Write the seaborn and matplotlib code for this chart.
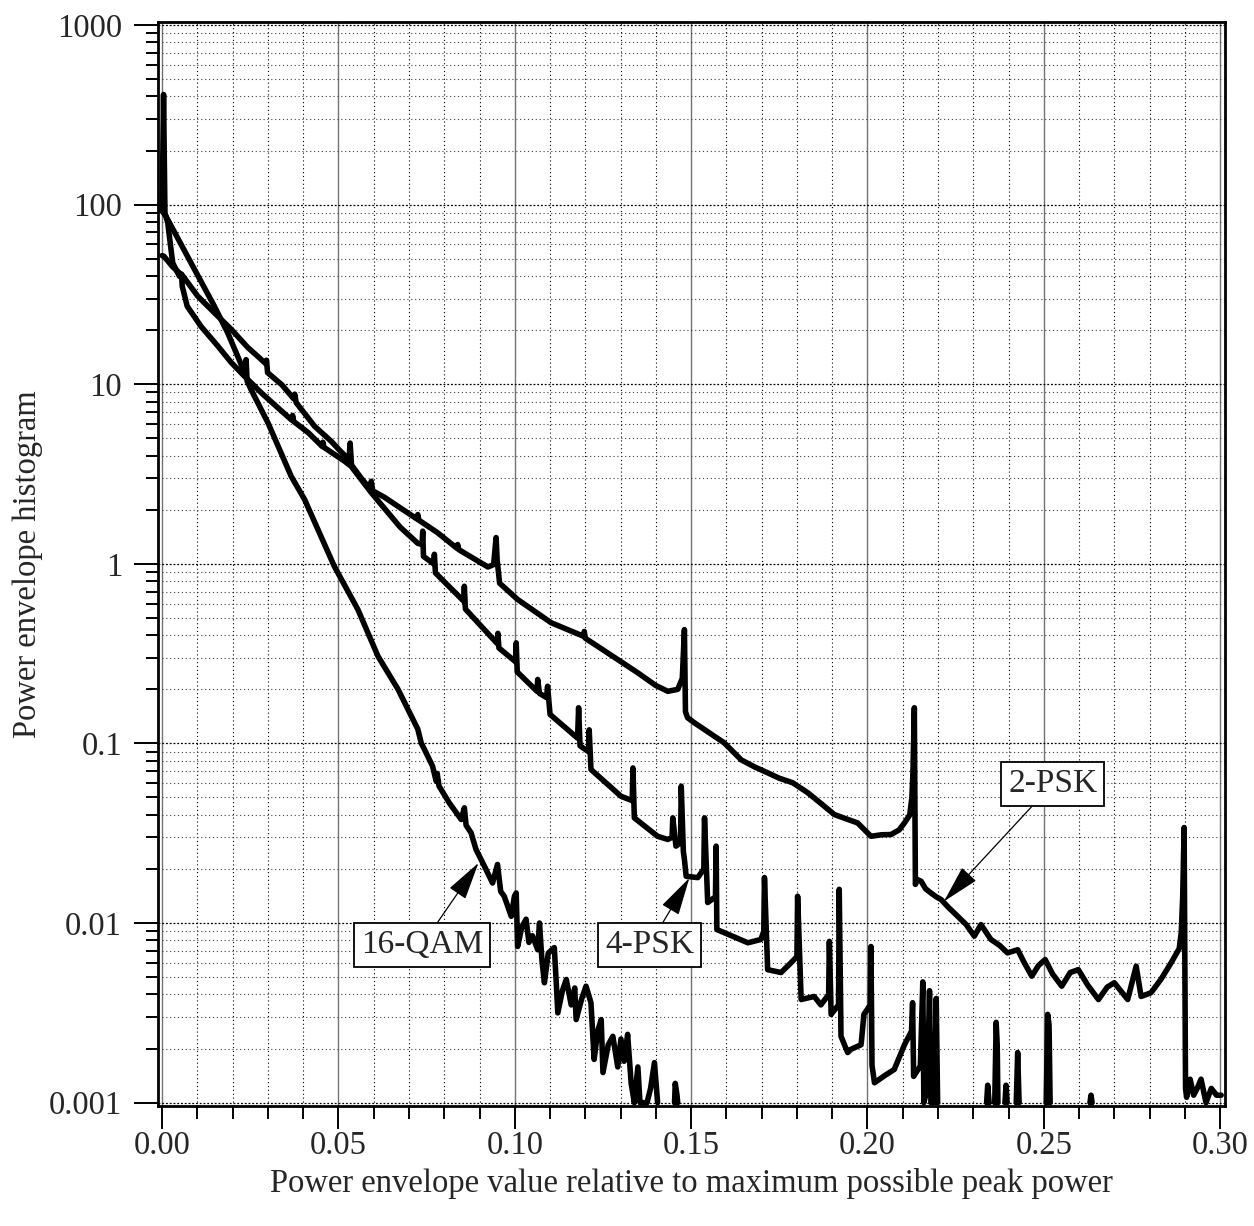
import pandas as pd
import numpy as np
import matplotlib
matplotlib.use('Agg')
import matplotlib.pyplot as plt
import matplotlib.ticker as mticker
import seaborn as sns

# (x, y) pairs; None marks a gap in the trace
PSK2 = [(0.0, 52), (0.0005, 51.6), (0.003, 45), (0.0059, 40), (0.0101, 30.9), (0.0148, 25),
        (0.0196, 20.2), (0.0243, 16), (0.0271, 14.3), (0.0294, 13.0), (0.0296, 13.6), (0.0299, 11.6),
        (0.0340, 9.9), (0.0373, 8.3), (0.0376, 8.8), (0.0380, 7.9), (0.0432, 5.84), (0.0479, 4.82),
        (0.0505, 4.25), (0.0530, 3.8), (0.0533, 4.7), (0.0537, 3.55), (0.0564, 3.01), (0.0590, 2.6),
        (0.0593, 2.88), (0.0597, 2.55), (0.0630, 2.35), (0.0675, 2.05), (0.0722, 1.78), (0.0725, 1.88),
        (0.0728, 1.75), (0.0781, 1.49), (0.0836, 1.22), (0.0838, 1.28), (0.0841, 1.2), (0.0880, 1.08),
        (0.0905, 1.01), (0.0924, 0.96), (0.0940, 0.99), (0.0947, 1.40), (0.0950, 1.05), (0.0957, 0.78),
        (0.1008, 0.633), (0.1103, 0.47), (0.1195, 0.395), (0.1197, 0.42), (0.1200, 0.385), (0.1292, 0.293),
        (0.1349, 0.247), (0.1400, 0.21), (0.1434, 0.195), (0.1462, 0.2), (0.1475, 0.23), (0.1481, 0.43),
        (0.1484, 0.15), (0.1490, 0.139), (0.1510, 0.13), (0.1594, 0.1007), (0.1642, 0.081), (0.1680, 0.074),
        (0.1717, 0.0686), (0.1750, 0.064), (0.1788, 0.0604), (0.1831, 0.0531), (0.1870, 0.046),
        (0.1906, 0.0402), (0.1940, 0.038), (0.1972, 0.0361), (0.2010, 0.0304), (0.2040, 0.031),
        (0.2067, 0.0311), (0.2090, 0.033), (0.2105, 0.0361), (0.2120, 0.040), (0.2126, 0.05),
        (0.2129, 0.069), (0.2133, 0.158), (0.2136, 0.0164), (0.2140, 0.0175), (0.2152, 0.0171),
        (0.2165, 0.0155), (0.2180, 0.0147), (0.2195, 0.014), (0.2209, 0.0135), (0.2230, 0.0122),
        (0.2256, 0.0109), (0.2280, 0.0098), (0.2303, 0.00845), (0.2322, 0.0098), (0.2350, 0.0081),
        (0.2375, 0.0075), (0.2397, 0.00682), (0.2426, 0.0071), (0.2445, 0.0060), (0.2466, 0.00506),
        (0.2485, 0.0058), (0.2504, 0.00626), (0.2525, 0.0052), (0.2551, 0.00445), (0.2575, 0.0053),
        (0.2598, 0.0055), (0.2625, 0.0045), (0.2655, 0.00375), (0.2680, 0.0044), (0.2700, 0.00465),
        (0.2738, 0.00375), (0.2762, 0.00575), (0.2776, 0.0039), (0.2804, 0.00409), (0.2832, 0.00485),
        (0.2861, 0.006), (0.2884, 0.0072), (0.2890, 0.0089), (0.2894, 0.0141), (0.2898, 0.034),
        (0.2902, 0.0012), (0.2905, 0.00107), (0.2915, 0.00135), (0.2925, 0.0011), (0.2935, 0.0012),
        (0.2946, 0.00135), (0.2960, 0.001), (0.2975, 0.0012), (0.2990, 0.0011), (0.3003, 0.0011)]

PSK4 = [(0.0, 92), (0.0004, 410), (0.0008, 90), (0.0016, 79), (0.0024, 58.7), (0.003, 47.4),
        (0.0049, 39.9), (0.0055, 41), (0.0057, 35.1), (0.0071, 27.2), (0.011, 21), (0.0158, 16.3),
        (0.0196, 13.2), (0.0233, 11.1), (0.0281, 8.96), (0.0328, 7.4), (0.0368, 6.3), (0.0370, 6.7),
        (0.0373, 6.2), (0.0415, 5.36), (0.0454, 4.5), (0.0456, 4.75), (0.0459, 4.45), (0.0517, 3.73),
        (0.0536, 3.49), (0.0593, 2.49), (0.0675, 1.6), (0.0725, 1.30), (0.0737, 1.28), (0.0739, 1.52),
        (0.0741, 1.1), (0.0770, 1.0), (0.0772, 1.13), (0.0775, 0.89), (0.0855, 0.62), (0.0857, 0.75),
        (0.0860, 0.56), (0.0950, 0.36), (0.0952, 0.41), (0.0955, 0.34), (0.1002, 0.285), (0.1004, 0.363),
        (0.1007, 0.25), (0.1063, 0.195), (0.1065, 0.227), (0.1070, 0.19), (0.1090, 0.18), (0.1093, 0.208),
        (0.1100, 0.145), (0.1178, 0.107), (0.1181, 0.158), (0.1185, 0.097), (0.1209, 0.09), (0.1211, 0.119),
        (0.1216, 0.0716), (0.1301, 0.0508), (0.1333, 0.048), (0.1335, 0.073), (0.1339, 0.0385),
        (0.1405, 0.0304), (0.1434, 0.0292), (0.1446, 0.03), (0.1448, 0.0385), (0.1457, 0.0268),
        (0.1470, 0.028), (0.1472, 0.0578), (0.1478, 0.025), (0.1481, 0.0226), (0.1486, 0.0182),
        (0.1519, 0.0179), (0.1536, 0.02), (0.1538, 0.0385), (0.1547, 0.013), (0.1569, 0.014),
        (0.1571, 0.0268), (0.1573, 0.0092), (0.1661, 0.00776), (0.1698, 0.0081), (0.1706, 0.009),
        (0.1708, 0.0179), (0.1717, 0.0055), (0.1755, 0.0053), (0.1783, 0.006), (0.1800, 0.0065),
        (0.1802, 0.0141), (0.1812, 0.00375), (0.1849, 0.0039), (0.1868, 0.0035), (0.1890, 0.004),
        (0.1892, 0.0079), (0.1897, 0.0031), (0.1918, 0.0035), (0.1920, 0.0154), (0.1925, 0.00234),
        (0.1944, 0.0019), (0.1953, 0.00198), (0.1982, 0.0021), (0.1990, 0.0031), (0.2008, 0.0035),
        (0.2010, 0.0074), (0.2013, 0.00161), (0.2020, 0.00129), (0.2048, 0.00141), (0.2076, 0.00153),
        (0.2105, 0.0021), (0.2125, 0.0025), (0.2128, 0.0036), (0.2131, 0.0014), (0.2150, 0.0016),
        (0.2157, 0.0047), (0.2160, 0.001), (0.2170, 0.0012), (0.2176, 0.0042), (0.2180, 0.001),
        (0.2190, 0.001), (0.2195, 0.0038), (0.2199, 0.001), None,
        (0.2338, 0.001), (0.2341, 0.00125), (0.2345, 0.001), None,
        (0.2361, 0.001), (0.2365, 0.0028), (0.2368, 0.0021), (0.2370, 0.001), None,
        (0.2390, 0.001), (0.2393, 0.00125), (0.2396, 0.001), None,
        (0.2422, 0.001), (0.2426, 0.0019), (0.2430, 0.001), None,
        (0.2507, 0.001), (0.2511, 0.0031), (0.2515, 0.0027), (0.2518, 0.001), None,
        (0.2631, 0.001), (0.2634, 0.0011), (0.2637, 0.001)]

QAM16 = [(0.0, 92), (0.0011, 86), (0.0092, 43.5), (0.0148, 27.2), (0.0186, 19.3), (0.0224, 12.9),
         (0.0236, 11.3), (0.0238, 13.7), (0.0241, 10.4), (0.0252, 9.35), (0.0300, 6.1), (0.0333, 4.33),
         (0.0366, 3.07), (0.0404, 2.28), (0.0488, 0.97), (0.0555, 0.557), (0.0612, 0.306), (0.0669, 0.2),
         (0.0725, 0.12), (0.0735, 0.1), (0.0744, 0.0925), (0.0767, 0.0746), (0.0777, 0.0616),
         (0.0780, 0.068), (0.0785, 0.058), (0.0814, 0.0467), (0.0848, 0.0377), (0.0857, 0.0438),
         (0.0862, 0.035), (0.0876, 0.0318), (0.0890, 0.0257), (0.0914, 0.0207), (0.0937, 0.0167),
         (0.0951, 0.0212), (0.0960, 0.015), (0.0970, 0.0141), (0.0990, 0.0109), (0.0999, 0.0141),
         (0.1004, 0.0147), (0.1008, 0.0074), (0.1020, 0.0095), (0.1032, 0.0105), (0.1040, 0.0078),
         (0.1050, 0.0085), (0.1065, 0.0071), (0.1070, 0.01), (0.1077, 0.0062), (0.1084, 0.00465),
         (0.1095, 0.0068), (0.1112, 0.0073), (0.1118, 0.0045), (0.1122, 0.00316), (0.1135, 0.0042),
         (0.1146, 0.00485), (0.1160, 0.0035), (0.1170, 0.00435), (0.1174, 0.0029), (0.1190, 0.0038),
         (0.1202, 0.00445), (0.1216, 0.0036), (0.1225, 0.00174), (0.1235, 0.0025), (0.1245, 0.0029),
         (0.1250, 0.00147), (0.1265, 0.0021), (0.1278, 0.00234), (0.1292, 0.00158), (0.1301, 0.00226),
         (0.1310, 0.0017), (0.1320, 0.0024), (0.1330, 0.00128), (0.1339, 0.001), (0.1349, 0.00158),
         (0.1355, 0.001), (0.1375, 0.001), (0.1385, 0.0012), (0.1396, 0.00167), (0.1405, 0.001), None,
         (0.1453, 0.001), (0.1455, 0.00128), (0.1460, 0.0011), (0.1462, 0.001)]

CURVES = {'2-PSK': PSK2, '4-PSK': PSK4, '16-QAM': QAM16}

X_TICKS = [0.00, 0.05, 0.10, 0.15, 0.20, 0.25, 0.30]
Y_TICKS = [0.001, 0.01, 0.1, 1, 10, 100, 1000]
Y_TICK_LABELS = ['0.001', '0.01', '0.1', '1', '10', '100', '1000']

LABELS = ['2-PSK', '4-PSK', '16-QAM']
TIP_X = [0.2217, 0.1495, 0.0897]
TIP_Y = [0.0132, 0.0178, 0.0216]
BOX_X = [0.2525, 0.1382, 0.0737]
BOX_Y = [0.0594, 0.00755, 0.00755]


def to_rows(name, pts):
    rows = []
    seg = 0
    for p in pts:
        if p is None:
            seg += 1
            continue
        rows.append({'curve': name, 'seg': f'{name}_{seg}', 'x': p[0], 'y': p[1]})
    return rows


rows = []
for name, pts in CURVES.items():
    rows += to_rows(name, pts)
df = pd.DataFrame(rows)

sns.set_style('white')
plt.rcParams['font.family'] = ['Liberation Serif', 'DejaVu Serif']

fig = plt.figure(figsize=(12.54, 12.26), dpi=100)
ax = fig.add_axes([0.1262, 0.0975, 0.8507, 0.8848])

sns.lineplot(data=df, x='x', y='y', units='seg', estimator=None, sort=False,
             color='black', lw=4.0, solid_joinstyle='round', solid_capstyle='round',
             ax=ax, zorder=3)

ax.set_yscale('log')
ax.set_xlim(-0.0011, 0.3014)
ax.set_ylim(0.000952, 1043)

ax.set_xticks(X_TICKS)
ax.set_xticklabels([f'{t:.2f}' for t in X_TICKS])
ax.xaxis.set_minor_locator(mticker.MultipleLocator(0.01))
ax.set_yticks(Y_TICKS)
ax.set_yticklabels(Y_TICK_LABELS)
ax.yaxis.set_minor_locator(mticker.LogLocator(base=10, subs=np.arange(2, 10)))
ax.yaxis.set_minor_formatter(mticker.NullFormatter())

ax.tick_params(axis='both', which='both', direction='out', color='black', labelsize=23.5,
               bottom=True, left=True)
ax.tick_params(axis='x', which='major', length=16.5, width=1.4, pad=0.5)
ax.tick_params(axis='x', which='minor', length=9.5, width=1.4)
ax.tick_params(axis='y', which='major', length=17, width=1.4, pad=9)
ax.tick_params(axis='y', which='minor', length=8.5, width=1.4)

# grid: solid grey at 0.05 steps, dotted elsewhere
ax.grid(True, axis='x', which='major', color='0.45', lw=1.0, ls='-')
ax.grid(True, axis='x', which='minor', color='black', lw=0.8, ls=(0, (1, 2.5)))
ax.grid(True, axis='y', which='major', color='black', lw=0.9, ls=(0, (1.5, 1.5)))
ax.grid(True, axis='y', which='minor', color='0.25', lw=0.8, ls=(0, (1, 2.5)))
ax.set_axisbelow(True)

for s in ax.spines.values():
    s.set_visible(True)
    s.set_color('black')
    s.set_linewidth(2.0)

ax.set_xlabel('Power envelope value relative to maximum possible peak power', fontsize=23.5)
ax.set_ylabel('Power envelope histogram', fontsize=23.5)
ax.xaxis.set_label_coords(0.5, -0.057)
ax.yaxis.set_label_coords(-0.108, 0.5)

for lab, tx, ty, bx, by in zip(LABELS, TIP_X, TIP_Y, BOX_X, BOX_Y):
    ax.annotate(lab, xy=(tx, ty), xytext=(bx, by), textcoords='data',
                ha='center', va='center', fontsize=24, zorder=5,
                bbox=dict(boxstyle='square,pad=0.2', fc='white', ec='black', lw=1.3),
                arrowprops=dict(arrowstyle='-|>,head_length=1.1,head_width=0.28', color='black',
                                lw=0.9, shrinkA=0, shrinkB=0, mutation_scale=22))

fig.savefig('out.png', dpi=100)
